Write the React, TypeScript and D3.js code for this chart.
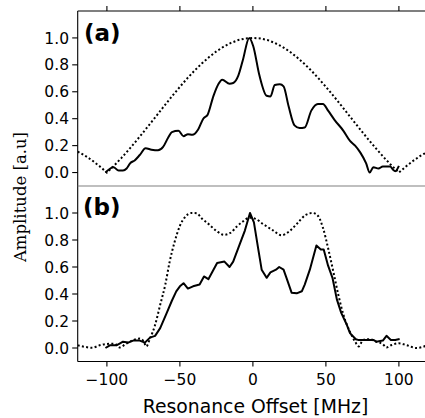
import React from 'react';
import * as d3 from 'd3';

// ---- data ----
const xTicks = [-100, -50, 0, 50, 100];
const yTicks = [0.0, 0.2, 0.4, 0.6, 0.8, 1.0];

const xDotA = [-120, -115, -110, -105, -100, -95, -90, -85, -80, -75, -70, -65, -60, -55, -50, -45, -40, -35, -30, -25, -20, -15, -10, -5, 0,
  5, 10, 15, 20, 25, 30, 35, 40, 45, 50, 55, 60, 65, 70, 75, 80, 85, 90, 95, 100, 105, 110, 115, 120];
const yDotA = [0.156, 0.126, 0.089, 0.047, 0.0, 0.052, 0.109, 0.170, 0.234, 0.300, 0.368, 0.436, 0.505, 0.572, 0.637, 0.699, 0.757, 0.810, 0.858, 0.900, 0.935, 0.963, 0.984, 0.996, 1.0,
  0.996, 0.984, 0.963, 0.935, 0.900, 0.858, 0.810, 0.757, 0.699, 0.637, 0.572, 0.505, 0.436, 0.368, 0.300, 0.234, 0.170, 0.109, 0.052, 0.0, 0.047, 0.089, 0.126, 0.156];

const xSolidA = [-101, -95.5, -92, -89, -86.5, -84, -81, -77.5, -73.5, -69.5, -65, -61.5, -58, -55.5, -51, -47.5, -44.5, -41.5, -37.5, -34, -31, -27, -23.5, -21, -16, -13.5, -10, -7, -2.5,
  0.2, 4.5, 9.4, 12, 15, 18.5, 21, 24.5, 28.5, 32, 35.5, 40, 44.5, 48, 51.5, 56, 62, 66.5, 70, 73.5, 77.5, 80, 82.5, 86, 89, 94, 96, 97.5, 100];
const ySolidA = [0.0, 0.04, 0.015, 0.015, 0.03, 0.07, 0.09, 0.13, 0.18, 0.17, 0.165, 0.19, 0.26, 0.30, 0.31, 0.27, 0.285, 0.28, 0.32, 0.40, 0.43, 0.57, 0.66, 0.69, 0.66, 0.665, 0.72, 0.83, 1.0,
  0.94, 0.72, 0.57, 0.565, 0.65, 0.655, 0.64, 0.49, 0.35, 0.33, 0.335, 0.46, 0.51, 0.51, 0.46, 0.39, 0.31, 0.235, 0.2, 0.15, 0.07, 0.0, 0.04, 0.03, 0.045, 0.045, 0.02, 0.01, 0.05];

const xDotB = [-120, -115, -110, -105, -100, -95, -91, -87.5, -82, -77.5, -75, -73, -70.5, -67, -63.5, -60, -57, -53.5, -50, -46.5, -42, -38.5, -35, -30, -25, -20, -15.5, -11, -6.5, -2.5,
  1.5, 7, 14, 19.5, 25, 31, 36, 41, 44.5, 48, 51.5, 55, 58.5, 62, 66.5, 70, 72.5, 75.5, 80, 84.5, 89, 91.5, 95, 100, 105, 112, 120];
const yDotB = [0.02, 0.008, 0.002, 0.02, 0.03, 0.032, 0.004, 0.027, 0.058, 0.07, 0.052, 0.012, 0.07, 0.17, 0.32, 0.47, 0.64, 0.79, 0.905, 0.97, 1.0, 0.998, 0.96, 0.915, 0.868, 0.838, 0.852, 0.9, 0.94, 0.965,
  0.958, 0.918, 0.87, 0.835, 0.865, 0.93, 0.985, 1.0, 0.98, 0.89, 0.74, 0.57, 0.395, 0.246, 0.12, 0.047, 0.012, 0.06, 0.065, 0.047, 0.028, 0.004, 0.022, 0.035, 0.022, 0.0, 0.022];

const xSolidB = [-101, -98, -93.5, -91, -89, -85.5, -82, -77.5, -74, -70.5, -67, -63.5, -59, -55.5, -52.5, -50, -47.5, -44.5, -41, -36.5, -33.5, -30.5, -27, -24.5, -19.5, -16, -13.5, -9, -5.5, -2,
  0.7, 3.7, 6, 9.4, 12, 15.8, 18, 21, 23, 26.5, 30, 33.5, 35.5, 39, 41.5, 43.5, 46.5, 48.5, 51.5, 54.5, 57.5, 60.5, 64, 66.5, 70.5, 72, 78, 82.5, 84.5, 89, 91.5, 94.5, 97.5, 100.5];
const ySolidB = [0.0, 0.02, 0.02, 0.035, 0.047, 0.04, 0.055, 0.055, 0.04, 0.077, 0.09, 0.147, 0.26, 0.35, 0.42, 0.457, 0.48, 0.44, 0.457, 0.47, 0.53, 0.51, 0.58, 0.63, 0.64, 0.60, 0.64, 0.77, 0.87, 1.0,
  0.93, 0.73, 0.58, 0.52, 0.56, 0.58, 0.60, 0.58, 0.52, 0.41, 0.405, 0.42, 0.47, 0.58, 0.68, 0.76, 0.73, 0.73, 0.61, 0.52, 0.36, 0.26, 0.18, 0.11, 0.065, 0.06, 0.06, 0.06, 0.047, 0.055, 0.09, 0.06, 0.06, 0.067];

// ---- layout ----
const W = 425, H = 418;
const LEFT = 77.7, RIGHT = 428.1;
const TOP_A = 11, MID = 186, BOT_B = 361.5;
const SANS = "'DejaVu Sans', sans-serif";
const SERIF = "'DejaVu Serif', serif";

export default function App() {
  const x = d3.scaleLinear().domain([-120, 120]).range([LEFT, RIGHT]);
  const yA = d3.scaleLinear().domain([-0.1, 1.2]).range([MID, TOP_A]);
  const yB = d3.scaleLinear().domain([-0.1, 1.2]).range([BOT_B, MID]);
  const fy = d3.format('.1f');
  const fx = d3.format('d');

  const mk = (xs: number[], ys: number[], y: d3.ScaleLinear<number, number>, curve: d3.CurveFactory) =>
    d3.line<number>().x((_, i) => x(xs[i])).y((v) => y(v)).curve(curve)(ys) || '';

  const dotA = mk(xDotA, yDotA, yA, d3.curveLinear);
  const solA = mk(xSolidA, ySolidA, yA, d3.curveMonotoneX);
  const dotB = mk(xDotB, yDotB, yB, d3.curveMonotoneX);
  const solB = mk(xSolidB, ySolidB, yB, d3.curveLinear);

  const dash = '2 2.3';

  return (
    <svg width={W} height={H} style={{ position: 'absolute', left: 0, top: 0, background: '#fff' }}>
      <defs>
        <clipPath id="clipA"><rect x={LEFT} y={TOP_A} width={RIGHT - LEFT} height={MID - TOP_A} /></clipPath>
        <clipPath id="clipB"><rect x={LEFT} y={MID} width={RIGHT - LEFT} height={BOT_B - MID} /></clipPath>
      </defs>

      {/* panel (a) lines */}
      <g clipPath="url(#clipA)">
        <path d={dotA} fill="none" stroke="#000" strokeWidth={2} strokeDasharray={dash} />
        <path d={solA} fill="none" stroke="#000" strokeWidth={2} strokeLinejoin="round" />
      </g>
      {/* panel (b) lines */}
      <g clipPath="url(#clipB)">
        <path d={dotB} fill="none" stroke="#000" strokeWidth={2} strokeDasharray={dash} />
        <path d={solB} fill="none" stroke="#000" strokeWidth={2} strokeLinejoin="round" />
      </g>

      {/* spines */}
      <line x1={LEFT} x2={LEFT} y1={TOP_A} y2={BOT_B} stroke="#000" strokeWidth={1.1} />
      <line x1={LEFT} x2={RIGHT} y1={TOP_A} y2={TOP_A} stroke="#000" strokeWidth={1.1} />
      <line x1={LEFT} x2={RIGHT} y1={BOT_B} y2={BOT_B} stroke="#000" strokeWidth={1.1} />
      <line x1={LEFT} x2={RIGHT} y1={MID} y2={MID} stroke="#808080" strokeWidth={1.1} />

      {/* top ticks of (a) */}
      {xTicks.map((t) => (
        <line key={'ta' + t} x1={x(t)} x2={x(t)} y1={TOP_A} y2={TOP_A - 5} stroke="#000" strokeWidth={1.1} />
      ))}
      {/* bottom ticks of (b) */}
      {xTicks.map((t) => (
        <g key={'tb' + t}>
          <line x1={x(t)} x2={x(t)} y1={BOT_B} y2={BOT_B + 5} stroke="#000" strokeWidth={1.1} />
          <text x={x(t)} y={385} textAnchor="middle" fontFamily={SANS} fontSize={15.5} fill="#000">{fx(t)}</text>
        </g>
      ))}

      {/* y ticks */}
      {[yA, yB].map((y, pi) =>
        yTicks.map((t) => (
          <g key={'y' + pi + t}>
            <line x1={LEFT} x2={LEFT - 5.5} y1={y(t)} y2={y(t)} stroke="#000" strokeWidth={1.1} />
            <text x={69} y={y(t)} dy="0.36em" textAnchor="end" fontFamily={SANS} fontSize={15.5} fill="#000">{fy(t)}</text>
          </g>
        ))
      )}

      {/* panel labels */}
      <text x={84} y={40.5} fontFamily={SANS} fontWeight="bold" fontSize={23} fill="#000">(a)</text>
      <text x={83} y={214.5} fontFamily={SANS} fontWeight="bold" fontSize={23} fill="#000">(b)</text>

      {/* axis labels */}
      <text transform="translate(25.5,197) rotate(-90)" textAnchor="middle" fontFamily={SERIF} fontSize={16.5} fill="#000">Amplitude [a.u]</text>
      <text x={255.5} y={412.5} textAnchor="middle" fontFamily={SANS} fontSize={18.8} fill="#000">Resonance Offset [MHz]</text>
    </svg>
  );
}
